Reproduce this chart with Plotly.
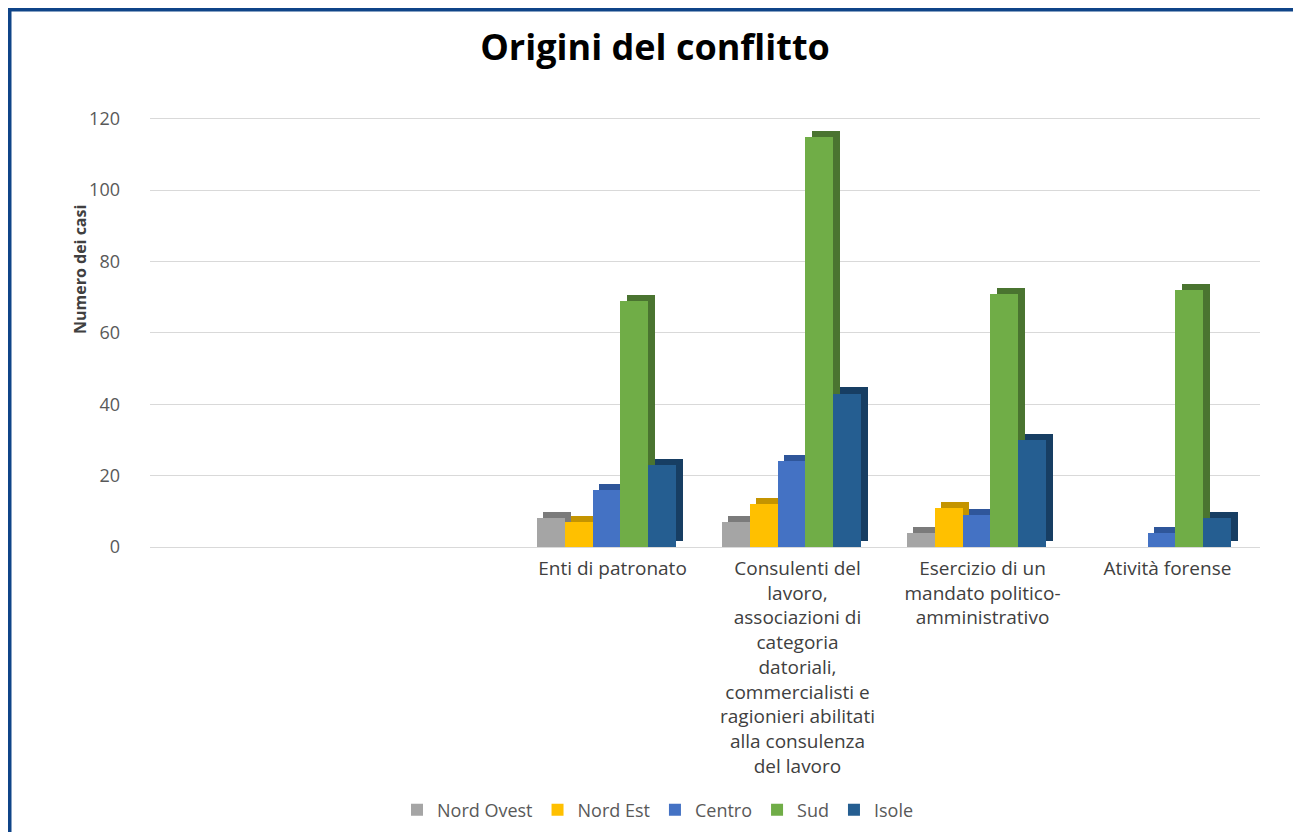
import plotly.graph_objects as go

# categorie (le prime due posizioni sono vuote come nel grafico originale)
categorie = ["", "",
             "Enti di patronato",
             "Consulenti del<br>lavoro,<br>associazioni di<br>categoria<br>datoriali,<br>commercialisti e<br>ragionieri abilitati<br>alla consulenza<br>del lavoro",
             "Esercizio di un<br>mandato politico-<br>amministrativo",
             "Atività forense"]

serie = ["Nord Ovest", "Nord Est", "Centro", "Sud", "Isole"]
nord_ovest = [None, None, 8, 7, 4, 0]
nord_est = [None, None, 7, 12, 11, 0]
centro = [None, None, 16, 24, 9, 4]
sud = [None, None, 69, 115, 71, 72]
isole = [None, None, 23, 43, 30, 8]
valori = [nord_ovest, nord_est, centro, sud, isole]

colori = ["#A5A5A5", "#FFC000", "#4472C4", "#70AD47", "#255E91"]
colori_lato = ["#7b7b7b", "#c49400", "#2f569a", "#4a7430", "#173e63"]

x_pos = list(range(len(categorie)))

bar_w = 0.151
start = -0.41
dx = 0.036   # profondità orizzontale (finto 3D)
dy = 1.7     # profondità verticale

# geometria in pixel (la pagina ha un margine di 8px)
W, H = 1293, 824
ML, MR, MT, MB = 142, 41, 109, 285
PW, PH = W - ML - MR, H - MT - MB


def px_x(fx):
    return (fx - ML) / PW


def px_y(fy):
    return (H - MB - fy) / PH


fig = go.Figure()

for i, (nome, vals) in enumerate(zip(serie, valori)):
    xs = [x for x, v in zip(x_pos, vals) if v is not None]
    ys = [v for v in vals if v is not None]
    off = start + i * bar_w
    # faccia laterale / superiore
    fig.add_trace(go.Bar(
        x=xs, y=ys, base=[dy] * len(ys),
        width=bar_w, offset=off + dx,
        marker=dict(color=colori_lato[i], line=dict(width=0)),
        showlegend=False, hoverinfo="skip",
    ))
    # faccia frontale
    fig.add_trace(go.Bar(
        x=xs, y=ys, name=nome,
        width=bar_w, offset=off,
        marker=dict(color=colori[i], line=dict(width=0)),
        hovertemplate="<b>%{fullData.name}</b><br>%{y}<extra></extra>",
    ))

fig.update_layout(
    width=W, height=H,
    barmode="overlay",
    plot_bgcolor="white",
    paper_bgcolor="white",
    font=dict(family="Open Sans, sans-serif", color="#595959"),
    title={
        "text": "<b>Origini del conflitto</b>",
        "font": {"size": 36, "color": "#000000", "family": "Open Sans, sans-serif"},
        "x": (655 - 8) / W, "xanchor": "center", "xref": "container",
        "y": 1 - (47 - 8) / H, "yanchor": "middle",
    },
    margin=dict(l=ML, r=MR, t=MT, b=MB, autoexpand=False),
    legend=dict(
        orientation="h",
        yanchor="middle", y=px_y(802),
        xanchor="center", x=px_x(650),
        font=dict(size=18, color="#595959"),
        itemwidth=30,
        traceorder="normal",
    ),
    bargap=0,
)

fig.update_yaxes(
    range=[0, 120.5],
    tickvals=[0, 20, 40, 60, 80, 100, 120],
    showgrid=True, gridcolor="#d9d9d9", gridwidth=1,
    zeroline=True, zerolinecolor="#d9d9d9", zerolinewidth=1,
    showline=False, automargin=False,
    tickfont=dict(size=18, color="#595959"),
    ticks="", ticklabelstandoff=29,
)

fig.update_xaxes(
    range=[-0.5, 5.5],
    tickmode="array", tickvals=x_pos, ticktext=categorie,
    showgrid=False, zeroline=False, showline=False, automargin=False,
    tickfont=dict(size=19, color="#404040"),
    ticks="", tickangle=0, ticklabelstandoff=8,
)

# titolo asse y
fig.add_annotation(
    text="<b>Numero dei casi</b>", textangle=-90,
    xref="paper", yref="paper",
    x=px_x(72), y=px_y(262),
    xanchor="center", yanchor="middle",
    showarrow=False,
    font=dict(size=16, color="#404040"),
)

# cornice blu
fig.add_shape(
    type="rect", xref="paper", yref="paper",
    x0=px_x(1.5), x1=px_x(1290.5),
    y0=px_y(840), y1=px_y(1.5),
    line=dict(color="#0f4488", width=4),
    fillcolor="rgba(0,0,0,0)",
)

fig.write_html("out.html")
